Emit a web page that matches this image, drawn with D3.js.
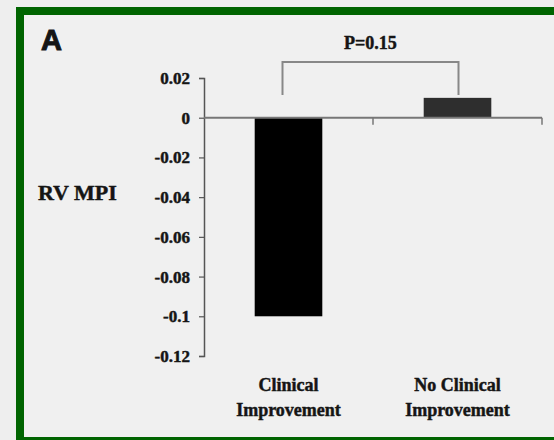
<!DOCTYPE html>
<html>
<head>
<meta charset="utf-8">
<script src="https://cdn.jsdelivr.net/npm/d3@7"></script>
<style>
  html, body { margin: 0; padding: 0; background: #eeeeee; }
  svg { display: block; }
  text { font-family: "Liberation Serif", "Times New Roman", serif; font-weight: bold; fill: #151515; stroke: #151515; stroke-width: 0.45px; }
</style>
</head>
<body>
<svg id="chart" width="554" height="440"></svg>
<script>
// Change in RV MPI by clinical outcome group
const categories = ["Clinical Improvement", "No Clinical Improvement"];
const categoryLines = [["Clinical", "Improvement"], ["No Clinical", "Improvement"]];
const values = [-0.1, 0.01];
const barColors = ["#000000", "#2e2e2e"];
const yTicks = [0.02, 0, -0.02, -0.04, -0.06, -0.08, -0.1, -0.12];
const yDomain = [-0.12, 0.02];
const panelLabel = "A";
const yTitle = "RV MPI";
const pLabel = "P=0.15";

const svg = d3.select("#chart");

// Green panel frame
svg.append("rect")
  .attr("x", 20).attr("y", 11)
  .attr("width", 560).attr("height", 430)
  .attr("fill", "#f0f0f0")
  .attr("stroke", "#006400")
  .attr("stroke-width", 8);

const x = d3.scaleBand().domain(categories).range([204, 542]).paddingInner(0).paddingOuter(0);
const y = d3.scaleLinear().domain(yDomain).range([356, 78]);
const barFrac = 0.4;

// Y axis
const yAxis = d3.axisLeft(y)
  .tickValues(yTicks)
  .tickSize(5)
  .tickPadding(9)
  .tickFormat(d => String(+d.toFixed(2)));
const gy = svg.append("g").attr("transform", "translate(204,0)").call(yAxis);
gy.select(".domain").attr("stroke", "#555").attr("stroke-width", 1.5);
gy.selectAll(".tick line").attr("stroke", "#555").attr("stroke-width", 1.2);
gy.selectAll(".tick text")
  .style("font-family", "'Liberation Serif', serif")
  .style("font-weight", "bold")
  .style("font-size", "17px")
  .attr("fill", "#151515");

// Bars
svg.append("g").selectAll("rect")
  .data(categories)
  .join("rect")
  .attr("x", (c) => x(c) + x.bandwidth() * (1 - barFrac) / 2)
  .attr("width", x.bandwidth() * barFrac)
  .attr("y", (c, i) => y(Math.max(0, values[i])))
  .attr("height", (c, i) => Math.abs(y(values[i]) - y(0)))
  .attr("fill", (c, i) => barColors[i]);

// Zero baseline with category divider ticks
svg.append("line")
  .attr("x1", 204).attr("x2", x.range()[1])
  .attr("y1", y(0)).attr("y2", y(0))
  .attr("stroke", "#777").attr("stroke-width", 2);
svg.append("g").selectAll("line")
  .data(categories)
  .join("line")
  .attr("x1", c => x(c) + x.step()).attr("x2", c => x(c) + x.step())
  .attr("y1", y(0)).attr("y2", y(0) + 7)
  .attr("stroke", "#777").attr("stroke-width", 1.5);

// Category labels
const labels = svg.append("g").selectAll("text")
  .data(categories)
  .join("text")
  .attr("text-anchor", "middle")
  .style("font-size", "18px");
labels.each(function (c, i) {
  d3.select(this).selectAll("tspan")
    .data(categoryLines[i])
    .join("tspan")
    .attr("x", x(c) + x.bandwidth() / 2)
    .attr("y", (t, j) => 391 + j * 25)
    .text(t => t);
});

// Significance bracket
const cx = categories.map(c => x(c) + x.bandwidth() / 2);
const bracketTop = 62, bracketBottom = 95;
svg.append("path")
  .attr("d", `M${cx[0] - 6},${bracketBottom}V${bracketTop}H${cx[1] + 1}V${bracketBottom}`)
  .attr("fill", "none")
  .attr("stroke", "#888")
  .attr("stroke-width", 2);
svg.append("text")
  .attr("x", (cx[0] - 6 + cx[1] + 1) / 2)
  .attr("y", 49)
  .attr("text-anchor", "middle")
  .style("font-size", "18px")
  .text(pLabel);

// Axis title
svg.append("text")
  .attr("x", 38).attr("y", 200)
  .style("font-size", "22px")
  .text(yTitle);

// Panel letter
svg.append("text")
  .attr("x", 41).attr("y", 50)
  .style("font-family", "'Liberation Sans', Arial, sans-serif")
  .style("font-size", "29px")
  .style("stroke-width", "1px")
  .attr("fill", "#000")
  .text(panelLabel);
</script>
</body>
</html>
